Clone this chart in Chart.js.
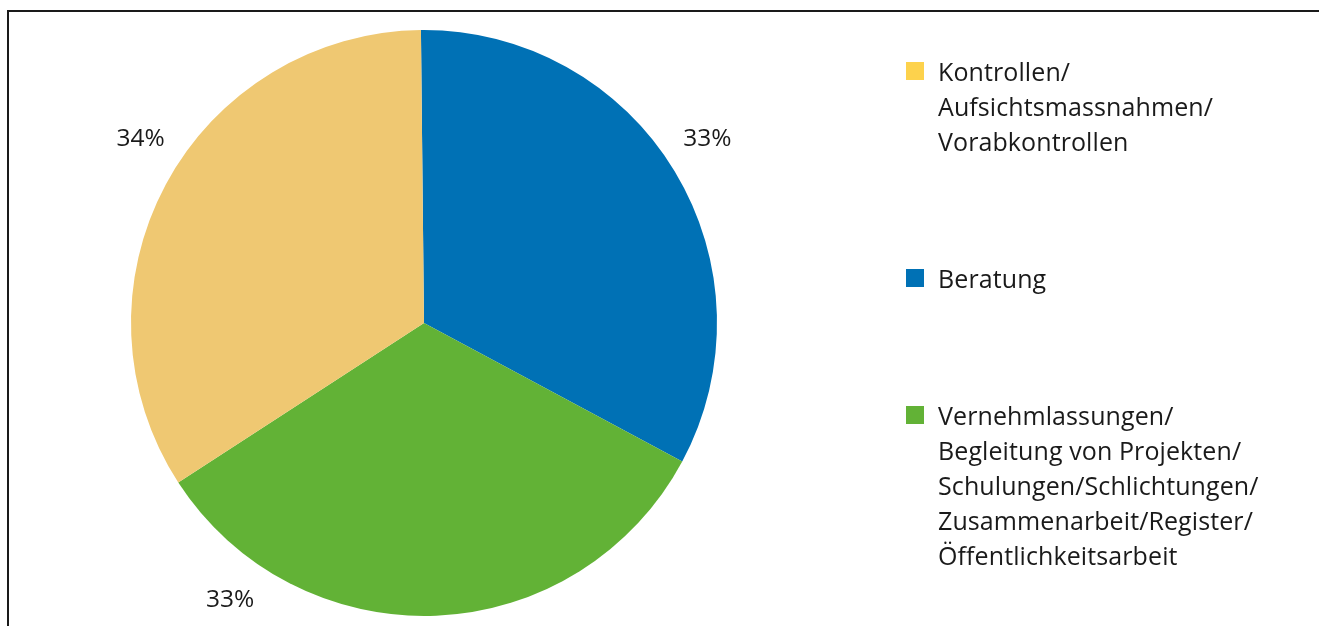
<!DOCTYPE html>
<html>
<head>
<meta charset="utf-8">
<script src="https://cdn.jsdelivr.net/npm/chart.js@4"></script>
<style>
  html, body { margin: 0; padding: 0; background: #fff; }
  #wrap { position: relative; width: 1319px; height: 626px; overflow: hidden; }
  #frame { position: absolute; left: 7px; top: 10px; right: -10px; bottom: -10px; border-left: 2px solid #1a1a1a; border-top: 2px solid #1a1a1a; }
  #pieChart { position: absolute; left: 0; top: 0; }
  #legend { position: absolute; left: 906px; top: 0; font-family: "Open Sans", sans-serif; font-size: 25px; color: #1a1a1a; line-height: 35px; letter-spacing: 0.1px; }
  .item { position: absolute; left: 0; white-space: nowrap; }
  .box { position: absolute; left: 0; top: 8px; width: 18px; height: 18px; }
  .txt { position: absolute; left: 32px; top: 0; }
</style>
</head>
<body>
<div id="wrap">
  <div id="frame"></div>
  <canvas id="pieChart" width="1319" height="626"></canvas>
  <div id="legend"></div>
</div>
<script>
'use strict';

// Daten
const labels = [
  ['Beratung'],
  ['Vernehmlassungen/', 'Begleitung von Projekten/', 'Schulungen/Schlichtungen/', 'Zusammenarbeit/Register/', 'Öffentlichkeitsarbeit'],
  ['Kontrollen/', 'Aufsichtsmassnahmen/', 'Vorabkontrollen']
];
const values = [33, 33, 34];
const sliceColors = ['#0071b5', '#62b236', '#efc872'];
const legendColors = ['#0071b5', '#62b236', '#fdd24c'];
// Legendenreihenfolge (wie im Original) und Lage der Prozentangaben
const legendOrder = [2, 0, 1];
const legendTops = [54, 261, 398];
const labelAngles = [57, 215, 303];

// Legende
let legendBox = document.querySelector('#legend');
legendOrder.forEach(function(i, k) {
  let item = document.createElement('div');
  item.className = 'item';
  item.style.top = legendTops[k] + 'px';
  item.innerHTML = '<div class="box" style="background:' + legendColors[i] + '"></div>' +
    '<div class="txt">' + labels[i].join('<br>') + '</div>';
  legendBox.appendChild(item);
});

// Prozentangaben ausserhalb der Kuchenstücke
const percentLabels = {
  id: 'percentLabels',
  afterDatasetsDraw(chart) {
    const ctx = chart.ctx;
    const meta = chart.getDatasetMeta(0);
    ctx.save();
    ctx.font = '24.5px "Open Sans", sans-serif';
    ctx.fillStyle = '#1a1a1a';
    ctx.textAlign = 'center';
    ctx.textBaseline = 'middle';
    meta.data.forEach(function(arc, i) {
      const a = labelAngles[i] * Math.PI / 180;
      const r = arc.outerRadius + 45;
      const x = arc.x + r * Math.sin(a);
      const y = arc.y - r * Math.cos(a);
      ctx.fillText(values[i] + '%', x, y);
    });
    ctx.restore();
  }
};

let context = document.querySelector('#pieChart').getContext('2d');
new Chart(context, {
  type: 'pie',
  data: {
    labels: labels.map(function(l) { return l.join(' '); }),
    datasets: [{
      data: values,
      backgroundColor: sliceColors,
      borderWidth: 0
    }]
  },
  options: {
    responsive: false,
    animation: false,
    rotation: -0.6,
    layout: { padding: { left: 131, top: 30, right: 602, bottom: 10 } },
    plugins: {
      legend: { display: false },
      tooltip: { enabled: false }
    }
  },
  plugins: [percentLabels]
});
</script>
</body>
</html>
